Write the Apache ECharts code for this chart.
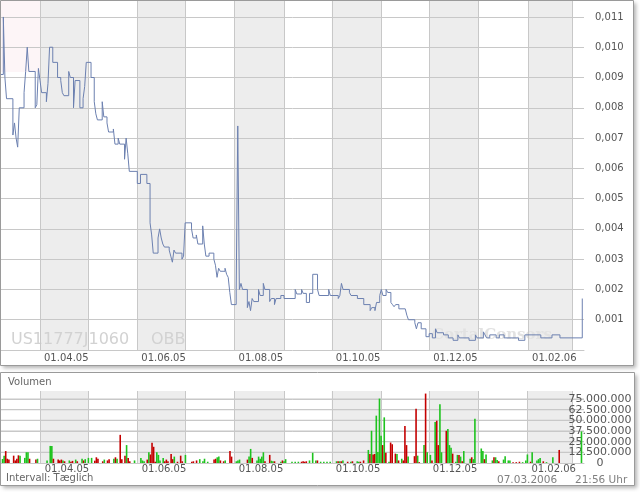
<!DOCTYPE html>
<html>
<head>
<meta charset="utf-8">
<script src="https://cdn.jsdelivr.net/npm/echarts/dist/echarts.min.js"></script>
<style>html,body{margin:0;padding:0;background:#fff}#c{width:640px;height:492px}</style>
</head>
<body>
<div id="c"></div>
<script>
// ---------- DATA ----------
const priceDates = [
 '2005-03-07','2005-03-09','2005-03-10','2005-03-11','2005-03-15','2005-03-16','2005-03-17','2005-03-18','2005-03-19','2005-03-22','2005-03-23','2005-03-24','2005-03-25','2005-03-29','2005-03-30','2005-03-31',
 '2005-04-01','2005-04-02','2005-04-05','2005-04-06','2005-04-07','2005-04-09','2005-04-12','2005-04-14','2005-04-15','2005-04-16','2005-04-19','2005-04-20','2005-04-22','2005-04-23','2005-04-26','2005-04-28','2005-04-29','2005-04-30',
 '2005-05-03','2005-05-05','2005-05-06','2005-05-07','2005-05-10','2005-05-11','2005-05-13','2005-05-14','2005-05-17','2005-05-18','2005-05-20','2005-05-21','2005-05-24','2005-05-25','2005-05-26','2005-05-27',
 '2005-06-01','2005-06-03','2005-06-07','2005-06-09','2005-06-10','2005-06-11','2005-06-14','2005-06-15','2005-06-16','2005-06-17','2005-06-18','2005-06-21','2005-06-22','2005-06-23','2005-06-24','2005-06-25','2005-06-29','2005-06-30',
 '2005-07-01','2005-07-05','2005-07-06','2005-07-08','2005-07-09','2005-07-12','2005-07-13','2005-07-14','2005-07-16','2005-07-19','2005-07-20','2005-07-21','2005-07-22','2005-07-23','2005-07-26','2005-07-27','2005-07-28','2005-07-29','2005-07-30',
 '2005-08-02','2005-08-03','2005-08-04','2005-08-05','2005-08-06','2005-08-09','2005-08-10','2005-08-11','2005-08-12','2005-08-13','2005-08-16','2005-08-17','2005-08-19','2005-08-20','2005-08-23','2005-08-24','2005-08-26','2005-08-27','2005-08-30',
 '2005-09-01','2005-09-08','2005-09-09','2005-09-12','2005-09-13','2005-09-15','2005-09-17','2005-09-19','2005-09-22','2005-09-23','2005-09-29','2005-09-30',
 '2005-10-05','2005-10-06','2005-10-07','2005-10-08','2005-10-12','2005-10-13','2005-10-17','2005-10-21','2005-10-25','2005-10-26','2005-10-28','2005-10-29','2005-10-31',
 '2005-11-01','2005-11-02','2005-11-04','2005-11-05','2005-11-07','2005-11-08','2005-11-09','2005-11-10','2005-11-12','2005-11-16','2005-11-17','2005-11-18','2005-11-22','2005-11-23','2005-11-24','2005-11-26','2005-11-29',
 '2005-12-01','2005-12-03','2005-12-05','2005-12-06','2005-12-10','2005-12-13','2005-12-16','2005-12-19','2005-12-20','2005-12-26','2005-12-30','2005-12-31',
 '2006-01-04','2006-01-05','2006-01-06','2006-01-08','2006-01-12','2006-01-14','2006-01-17','2006-01-26','2006-01-30',
 '2006-02-09','2006-02-16','2006-02-21',
 '2006-03-07'
];
const priceValues = [
 0.0091,0.0110,0.0090,0.0083,0.0071,0.0075,0.0070,0.0067,0.0080,0.0085,0.0092,0.0100,0.0092,0.0080,0.0081,0.0093,
 0.0089,0.0085,0.0082,0.0088,0.0100,0.0095,0.0090,0.0089,0.0085,0.0084,0.0092,0.0090,0.0080,0.0089,0.0080,0.0083,0.0087,0.0095,
 0.0090,0.0082,0.0078,0.0076,0.0082,0.0077,0.0075,0.0072,0.0073,0.0068,0.0070,0.0068,0.0063,0.0070,0.0065,0.0059,
 0.0055,0.0058,0.0055,0.0042,0.0038,0.0032,0.0037,0.0040,0.0037,0.0035,0.0034,0.0033,0.0031,0.0029,0.0033,0.0032,0.0030,0.0031,
 0.0042,0.0040,0.0037,0.0038,0.0035,0.0041,0.0035,0.0031,0.0032,0.0030,0.0028,0.0024,0.0027,0.0026,0.0027,0.0025,0.0024,0.0019,0.0015,
 0.0020,0.0074,0.0020,0.0022,0.0020,0.0014,0.0016,0.0013,0.0017,0.0016,0.0020,0.0018,0.0022,0.0020,0.0016,0.0017,0.0015,0.0017,0.0018,
 0.0017,0.0020,0.00185,0.0020,0.00187,0.00157,0.00187,0.0025,0.0020,0.0018,0.0020,0.0018,
 0.0017,0.0018,0.0022,0.0020,0.0019,0.0018,0.0017,0.0015,0.0013,0.0014,0.0013,0.00157,0.0018,
 0.0020,0.0018,0.0020,0.0019,0.00157,0.0015,0.00143,0.0015,0.00136,0.0013,0.00115,0.0010,0.0009,0.0007,0.0009,0.0007,0.00044,
 0.00054,0.0004,0.0007,0.00057,0.0005,0.0004,0.00032,0.0005,0.0004,0.00032,0.0005,0.0004,
 0.0006,0.0005,0.0004,0.0005,0.0004,0.0005,0.0004,0.00032,0.0005,
 0.0004,0.0005,0.0004,
 0.0017
];

// volume (millions), up = 1 green / 0 red
const volDates = [
 '2005-03-08','2005-03-09','2005-03-10','2005-03-11','2005-03-12','2005-03-15','2005-03-16','2005-03-17','2005-03-18','2005-03-19','2005-03-22','2005-03-23','2005-03-24','2005-03-25','2005-03-29','2005-03-30',
 '2005-04-05','2005-04-07','2005-04-08','2005-04-09','2005-04-12','2005-04-13','2005-04-14','2005-04-15','2005-04-16','2005-04-19','2005-04-20','2005-04-21','2005-04-23','2005-04-24','2005-04-27','2005-04-28','2005-04-29',
 '2005-05-01','2005-05-03','2005-05-05','2005-05-06','2005-05-07','2005-05-10','2005-05-11','2005-05-13','2005-05-14','2005-05-17','2005-05-18','2005-05-19','2005-05-21','2005-05-22','2005-05-24','2005-05-25','2005-05-26','2005-05-27','2005-05-30',
 '2005-06-03','2005-06-04','2005-06-05','2005-06-07','2005-06-08','2005-06-09','2005-06-10','2005-06-11','2005-06-12','2005-06-13','2005-06-14','2005-06-15','2005-06-17','2005-06-18','2005-06-19','2005-06-20','2005-06-22','2005-06-23','2005-06-24','2005-06-26','2005-06-28','2005-06-29',
 '2005-07-01','2005-07-05','2005-07-06','2005-07-08','2005-07-10','2005-07-12','2005-07-13','2005-07-15','2005-07-19','2005-07-20','2005-07-21','2005-07-22','2005-07-23','2005-07-25','2005-07-26','2005-07-29','2005-07-30',
 '2005-08-02','2005-08-03','2005-08-04','2005-08-09','2005-08-10','2005-08-11','2005-08-12','2005-08-15','2005-08-16','2005-08-17','2005-08-18','2005-08-19','2005-08-20','2005-08-23','2005-08-24','2005-08-25','2005-08-26','2005-08-30','2005-08-31',
 '2005-09-01','2005-09-02','2005-09-06','2005-09-08','2005-09-10','2005-09-12','2005-09-13','2005-09-14','2005-09-15','2005-09-17','2005-09-19','2005-09-21','2005-09-22','2005-09-24','2005-09-26','2005-09-28','2005-09-30',
 '2005-10-04','2005-10-05','2005-10-06','2005-10-07','2005-10-08','2005-10-11','2005-10-13','2005-10-14','2005-10-17','2005-10-18','2005-10-19','2005-10-21','2005-10-24','2005-10-25','2005-10-26','2005-10-27','2005-10-28','2005-10-29','2005-10-30','2005-10-31',
 '2005-11-01','2005-11-02','2005-11-03','2005-11-04','2005-11-06','2005-11-07','2005-11-08','2005-11-10','2005-11-11','2005-11-12','2005-11-14','2005-11-15','2005-11-16','2005-11-17','2005-11-18','2005-11-22','2005-11-23','2005-11-24','2005-11-25','2005-11-28','2005-11-29','2005-11-30',
 '2005-12-02','2005-12-03','2005-12-05','2005-12-06','2005-12-07','2005-12-08','2005-12-09','2005-12-12','2005-12-13','2005-12-14','2005-12-15','2005-12-16','2005-12-18','2005-12-19','2005-12-20','2005-12-21','2005-12-22','2005-12-23','2005-12-27','2005-12-28','2005-12-29','2005-12-30',
 '2006-01-03','2006-01-04','2006-01-05','2006-01-06','2006-01-10','2006-01-11','2006-01-12','2006-01-13','2006-01-14','2006-01-17','2006-01-18','2006-01-20','2006-01-21','2006-01-23','2006-01-25','2006-01-27','2006-01-29','2006-01-31',
 '2006-02-01','2006-02-03','2006-02-04','2006-02-07','2006-02-08','2006-02-09','2006-02-11','2006-02-13','2006-02-17','2006-02-21',
 '2006-03-07'
];
const volMio = [
 4.7,8.6,14,5,4,8.6,3,5,9,8.6,6,12.6,12.6,5,4,5,
 3,20,20,5,4,3,4,3,2,3,1.5,2.5,4,2,5,3,4.5,
 6,6,2.7,6.7,5,2,4,3,4.5,5,6.7,5,33,4.5,8.6,21,6,2,3,
 6,3,2,4,12.6,10,23.6,19,1.5,12.6,9.5,3,6,2,4,2,10.6,4.5,7.5,1.5,8.6,2,
 9.5,1.5,2,3,4.5,2,5,1.5,4,5,6.7,7.5,3,2,3,14,7.5,
 2,3,4,4,7.5,16.5,6,3,7.5,5,7.5,12.6,2,9.5,2.7,2,2,1.5,3,
 2,4.5,1.5,1.5,1.5,1.5,2,1.5,2,3,12,3,3,1.5,1.5,1.5,1.5,
 2,2,2,2,3,1.5,1.5,2,2,1.5,1.5,3,15.3,10.6,37.8,10,10.6,55.5,13,75.5,
 32,21,53.5,12,1.5,24,22,11,10.6,3,5,3,43.5,21,7.5,8,63.7,8.6,1,21,81.4,12.6,
 9.5,3,48,49.6,21,69,12.6,37.8,40,21,18,11,1.5,9.5,9.5,7.5,2,14,5,6.7,4.5,52,
 17,14,4.5,10,3,6.7,6.7,3.5,2,4,8,3,3,1,1,1.5,1,3,
 10,1.5,12.6,3,4.5,6,2,1,6.7,15.3,
 37
];
const volUp = [
 1,1,0,0,0,0,0,0,0,1,1,1,1,0,0,1,
 1,1,1,0,0,0,0,1,0,1,0,0,1,0,1,0,1,
 1,1,0,0,0,0,1,0,0,1,0,1,0,0,0,1,0,0,1,
 1,1,1,0,1,0,0,0,0,1,1,1,1,0,0,0,0,0,1,0,0,0,
 1,0,0,0,1,1,1,1,0,0,1,1,0,0,1,0,0,
 1,1,1,0,1,1,0,1,1,1,1,1,0,0,1,1,0,1,0,
 1,1,1,1,1,0,0,0,0,1,1,1,0,1,1,1,1,
 1,0,1,0,1,0,1,0,1,1,0,0,1,0,1,0,0,1,1,1,
 1,0,1,0,1,0,0,0,1,0,1,0,0,0,1,0,0,1,0,1,0,1,
 1,0,1,0,0,1,1,0,1,1,1,0,1,1,0,1,0,1,1,0,1,1,
 1,1,0,1,1,0,1,1,0,1,1,1,1,0,0,0,1,1,
 1,0,1,1,1,1,0,1,1,0,
 1
];

const volTicks = [12.5, 25, 37.5, 50, 62.5, 75];
const shadedMonths = [['2005-04-01','2005-05-01'],['2005-06-01','2005-07-01'],['2005-08-01','2005-09-01'],['2005-10-01','2005-11-01'],['2005-12-01','2006-01-01'],['2006-02-01','2006-03-01']];
const labelDates = ['2005-04-01','2005-06-01','2005-08-01','2005-10-01','2005-12-01','2006-02-01'];

// ---------- HELPERS ----------
const FONT = '"DejaVu Sans", Verdana, sans-serif';
const ts = s => { const p = s.split(/[- :]/).map(Number); return new Date(p[0], p[1]-1, p[2], p[3]||0, p[4]||0).getTime(); };
const pad = n => (n < 10 ? '0' : '') + n;
const fmtDate = v => { const d = new Date(v); return pad(d.getDate()) + '.' + pad(d.getMonth()+1) + '.' + String(d.getFullYear()).slice(2); };
const fmtThousands = n => String(n).replace(/\B(?=(\d{3})+(?!\d))/g, '.');

const xMin = ts('2005-03-07 13:00');
const xMax = ts('2006-03-08 02:00');
const VOL_MAX = 84.4;
const VOL_PLOT_PX = 72;
const labelTs = labelDates.map(ts);
const gridLine = () => ({ color: '#c8c8c8', width: 1, type: 'solid' });

const shadeItems = () => shadedMonths.map(([a, b]) => [{ xAxis: ts(a) }, { xAxis: ts(b) }]);

// volume: horizontal grid lines as 1px-high filled bands (drawn after the shading)
const halfPx = 0.5 * VOL_MAX / VOL_PLOT_PX;
const volLineItems = volTicks.map(v => [
  { yAxis: v - halfPx, itemStyle: { color: '#c8c8c8' } },
  { yAxis: v + halfPx }
]);

function xAxisDef(idx, margin) {
  return {
    type: 'time', gridIndex: idx, min: xMin, max: xMax, z: 1,
    minInterval: 28 * 86400000, maxInterval: 31 * 86400000,
    axisLine: { show: true, lineStyle: { color: '#c8c8c8', width: 1 } },
    axisTick: { show: false },
    axisLabel: {
      formatter: v => labelTs.indexOf(v) >= 0 ? fmtDate(v) : '',
      align: 'left', padding: [0, 0, 0, 4], hideOverlap: false,
      color: '#555', fontSize: 10, fontFamily: FONT, margin: margin },
    splitLine: { show: true, showMinLine: false, showMaxLine: false, lineStyle: gridLine() }
  };
}

const volLabel = (extra) => Object.assign({ margin: 16, align: 'center', color: '#555', fontSize: 11, fontFamily: FONT,
  hideOverlap: false, formatter: v => fmtThousands(Math.round(v * 1e6)) }, extra);

const chart = echarts.init(document.getElementById('c'), null, { renderer: 'canvas' });
const frameStyle = () => ({ fill: '#fff', shadowBlur: 4, shadowOffsetX: 2, shadowOffsetY: 2, shadowColor: 'rgba(0,0,0,0.3)' });

chart.setOption({
  animation: false,
  textStyle: { fontFamily: FONT },
  grid: [
    { left: 1, right: 56, top: 0, height: 350 },
    { left: 1, right: 56, top: 391, height: VOL_PLOT_PX }
  ],
  xAxis: [ xAxisDef(0, 3), xAxisDef(1, 1) ],
  yAxis: [
    { type: 'value', gridIndex: 0, position: 'right', min: 0, max: 0.01156, interval: 0.001, z: 1,
      axisLine: { show: false }, axisTick: { show: false },
      splitLine: { show: true, showMinLine: false, showMaxLine: false, lineStyle: gridLine() },
      axisLabel: { showMinLabel: false, showMaxLabel: false, margin: 11, color: '#555', fontSize: 10, fontFamily: FONT,
        formatter: v => v.toFixed(3).replace('.', ',') } },
    { type: 'value', gridIndex: 1, position: 'right', min: 0, max: VOL_MAX, interval: 12.5, z: 1,
      axisLine: { show: false }, axisTick: { show: false },
      splitLine: { show: true, showMinLine: false, showMaxLine: false, lineStyle: gridLine() },
      axisLabel: volLabel({ showMinLabel: false, showMaxLabel: false }) },
    { type: 'value', gridIndex: 1, position: 'right', min: 0, max: VOL_MAX, interval: VOL_MAX, z: 1,
      axisLine: { show: false }, axisTick: { show: false }, splitLine: { show: false },
      axisLabel: volLabel({ showMinLabel: true, showMaxLabel: false }) }
  ],
  series: [
    {
      name: 'Kurs', type: 'line', xAxisIndex: 0, yAxisIndex: 0, step: 'end',
      showSymbol: false, symbol: 'none', z: 2,
      lineStyle: { color: '#6c80b0', width: 1 },
      data: priceDates.map((d, i) => [ts(d), priceValues[i]]),
      markArea: { silent: true, z: 0, label: { show: false }, itemStyle: { color: '#ededed' }, data: shadeItems() }
    },
    {
      name: 'Volumen', type: 'bar', xAxisIndex: 1, yAxisIndex: 1, barWidth: 1.6, z: 2,
      data: volDates.map((d, i) => ({ value: [ts(d), volMio[i]], itemStyle: { color: volUp[i] ? '#1ec31e' : '#c40000' } })),
      markArea: { silent: true, z: 0, label: { show: false }, itemStyle: { color: '#ededed' },
        data: shadeItems().concat(volLineItems) }
    }
  ],
  graphic: { elements: [
    { type: 'rect', z: -10, silent: true, shape: { x: 0.5, y: 0.5, width: 633, height: 365 }, style: frameStyle() },
    { type: 'rect', z: -10, silent: true, shape: { x: 0.5, y: 372.5, width: 634, height: 113 }, style: frameStyle() },
    { type: 'rect', z: 0.1, silent: true, shape: { x: 1, y: 1, width: 39, height: 71 }, style: { fill: '#fdf5f7' } },
    { type: 'text', z: 0.2, silent: true, x: 11, y: 340, style: { text: 'US11777J1060', font: '16px ' + FONT, fill: '#d2d2d2', verticalAlign: 'middle' } },
    { type: 'text', z: 0.2, silent: true, x: 151, y: 340, style: { text: 'OBB', font: '16px ' + FONT, fill: '#d2d2d2', verticalAlign: 'middle' } },
    { type: 'text', z: 0.2, silent: true, x: 432, y: 335, style: { text: 'CortalConsors', font: 'bold 15px "DejaVu Serif", serif', fill: '#e2e2e2', verticalAlign: 'middle' } },
    { type: 'rect', z: 100, silent: true, shape: { x: 0.5, y: 0.5, width: 633, height: 365 }, style: { fill: 'none', stroke: '#9a9a9a', lineWidth: 1 } },
    { type: 'rect', z: 100, silent: true, shape: { x: 0.5, y: 372.5, width: 634, height: 113 }, style: { fill: 'none', stroke: '#9a9a9a', lineWidth: 1 } },
    { type: 'text', z: 100, silent: true, x: 8, y: 382, style: { text: 'Volumen', font: '10px ' + FONT, fill: '#666', verticalAlign: 'middle' } },
    { type: 'text', z: 100, silent: true, x: 6, y: 478, style: { text: 'Intervall: Tæglich', font: '10px ' + FONT, fill: '#666', verticalAlign: 'middle' } },
    { type: 'text', z: 100, silent: true, x: 497, y: 480.5, style: { text: '07.03.2006', font: '10.5px ' + FONT, fill: '#808080', verticalAlign: 'middle' } },
    { type: 'text', z: 100, silent: true, x: 575, y: 480.5, style: { text: '21:56 Uhr', font: '10.5px ' + FONT, fill: '#808080', verticalAlign: 'middle' } }
  ] }
});
</script>
</body>
</html>
